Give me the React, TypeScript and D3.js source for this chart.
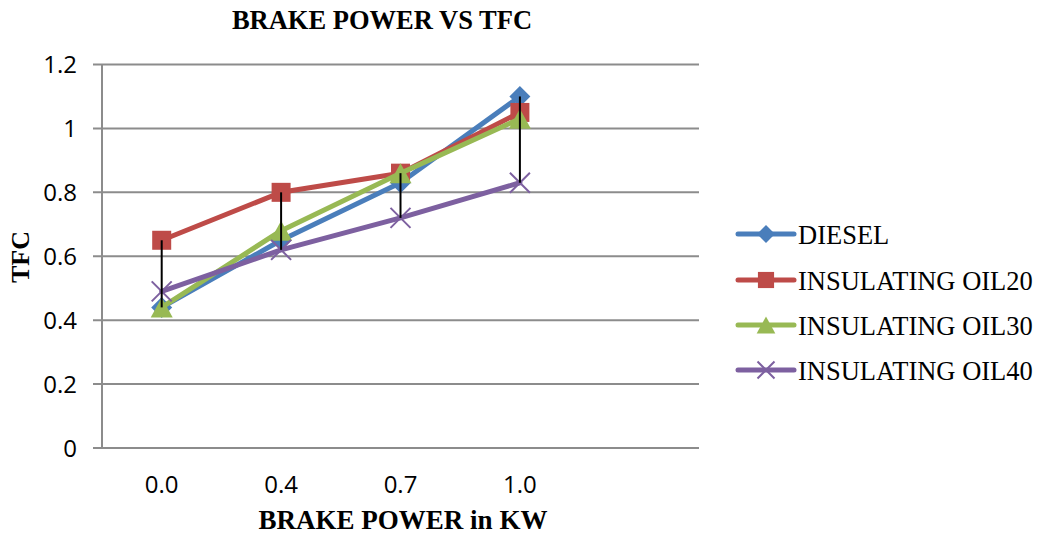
import React from "react";
import * as d3 from "d3";

const categories = ["0.0", "0.4", "0.7", "1.0", ""];
const seriesNames = ["DIESEL", "INSULATING OIL20", "INSULATING OIL30", "INSULATING OIL40"];
const diesel = [0.44, 0.65, 0.83, 1.1];
const oil20 = [0.65, 0.8, 0.86, 1.05];
const oil30 = [0.44, 0.68, 0.86, 1.03];
const oil40 = [0.49, 0.62, 0.72, 0.83];
const yTicks = [0, 0.2, 0.4, 0.6, 0.8, 1, 1.2];

const seriesValues = [diesel, oil20, oil30, oil40];
const colors = ["#4A7EBB", "#BE4B48", "#98B954", "#7D60A0"];
const markerTypes = ["diamond", "square", "triangle", "x"];

const W = 1040;
const H = 535;
const plot = { left: 102, right: 699, top: 64.5, bottom: 448 };

const x = d3.scaleBand<string>().domain(categories).range([plot.left, plot.right]);
const y = d3.scaleLinear().domain([0, 1.2]).range([plot.bottom, plot.top]);
const cx = (c: string) => (x(c) as number) + x.bandwidth() / 2;

function Marker({ type, px, py, color, s = 1 }: { type: string; px: number; py: number; color: string; s?: number }) {
  if (type === "diamond") {
    const r = 10.5 * s;
    return <path d={`M${px},${py - r}L${px + r},${py}L${px},${py + r}L${px - r},${py}Z`} fill={color} />;
  }
  if (type === "square") {
    const r = 9.5 * s;
    return <rect x={px - r} y={py - r} width={2 * r} height={2 * r} fill={color} />;
  }
  if (type === "triangle") {
    const w = 11 * s;
    const h = 10 * s;
    return <path d={`M${px},${py - h}L${px + w},${py + h}L${px - w},${py + h}Z`} fill={color} />;
  }
  const r = 10 * s;
  return (
    <path
      d={`M${px - r},${py - r}L${px + r},${py + r}M${px - r},${py + r}L${px + r},${py - r}`}
      stroke={color}
      strokeWidth={2}
      fill="none"
    />
  );
}

export default function App() {
  const line = d3
    .line<number>()
    .x((_, i) => cx(categories[i]))
    .y((v) => y(v));

  const hiLo = categories.slice(0, 4).map((c, i) => {
    const vals = seriesValues.map((s) => s[i]);
    return { c, hi: d3.max(vals) as number, lo: d3.min(vals) as number };
  });

  const legendX = 738;
  const legendY = [234, 280, 325, 370];

  return (
    <svg
      width={W}
      height={H}
      style={{ position: "absolute", left: 0, top: 0, background: "#fff" }}
      fontFamily="'Liberation Serif', 'Times New Roman', serif"
    >
      <rect width={W} height={H} fill="#fff" />
      <text x={382} y={29} textAnchor="middle" fontSize={26.5} fontWeight="bold" fill="#000">
        BRAKE POWER VS TFC
      </text>

      {/* grid lines */}
      {yTicks.map((t) => (
        <line key={t} x1={plot.left - 9} x2={plot.right} y1={y(t)} y2={y(t)} stroke="#8C8C8C" strokeWidth={2} />
      ))}
      <line x1={plot.left} x2={plot.left} y1={plot.top} y2={plot.bottom} stroke="#8C8C8C" strokeWidth={2} />

      {/* y tick labels */}
      {yTicks.map((t) => (
        <text
          key={"l" + t}
          x={77}
          y={y(t) + 8.5}
          textAnchor="end"
          fontSize={24}
          fontFamily="'Open Sans', sans-serif"
          fill="#000"
        >
          {d3.format("~g")(t)}
        </text>
      ))}

      {/* x tick labels */}
      {categories.map((c) => (
        <text
          key={"x" + c}
          x={cx(c)}
          y={492.5}
          textAnchor="middle"
          fontSize={24}
          fontFamily="'Open Sans', sans-serif"
          fill="#000"
        >
          {c}
        </text>
      ))}

      {/* series */}
      {seriesValues.map((vals, si) => (
        <g key={si}>
          <path
            d={line(vals) as string}
            fill="none"
            stroke={colors[si]}
            strokeWidth={5}
            strokeLinejoin="round"
            strokeLinecap="round"
          />
          {vals.map((v, i) => (
            <Marker key={i} type={markerTypes[si]} px={cx(categories[i])} py={y(v)} color={colors[si]} />
          ))}
        </g>
      ))}

      {/* high-low lines */}
      {hiLo.map((d) => (
        <line key={"hl" + d.c} x1={cx(d.c)} x2={cx(d.c)} y1={y(d.hi)} y2={y(d.lo)} stroke="#000" strokeWidth={2} />
      ))}

      {/* axis titles */}
      <text x={403} y={528.5} textAnchor="middle" fontSize={27} fontWeight="bold" fill="#000">
        BRAKE POWER in KW
      </text>
      <text
        transform={`translate(28.5,257) rotate(-90)`}
        textAnchor="middle"
        fontSize={26}
        fontWeight="bold"
        fill="#000"
      >
        TFC
      </text>

      {/* legend */}
      {seriesNames.map((name, si) => (
        <g key={name}>
          <line
            x1={legendX}
            x2={legendX + 56}
            y1={legendY[si]}
            y2={legendY[si]}
            stroke={colors[si]}
            strokeWidth={5}
            strokeLinecap="round"
          />
          <Marker type={markerTypes[si]} px={legendX + 28} py={legendY[si]} color={colors[si]} s={0.85} />
          <text x={798} y={legendY[si] + 9.5} fontSize={26.5} fill="#000">
            {name}
          </text>
        </g>
      ))}
    </svg>
  );
}
